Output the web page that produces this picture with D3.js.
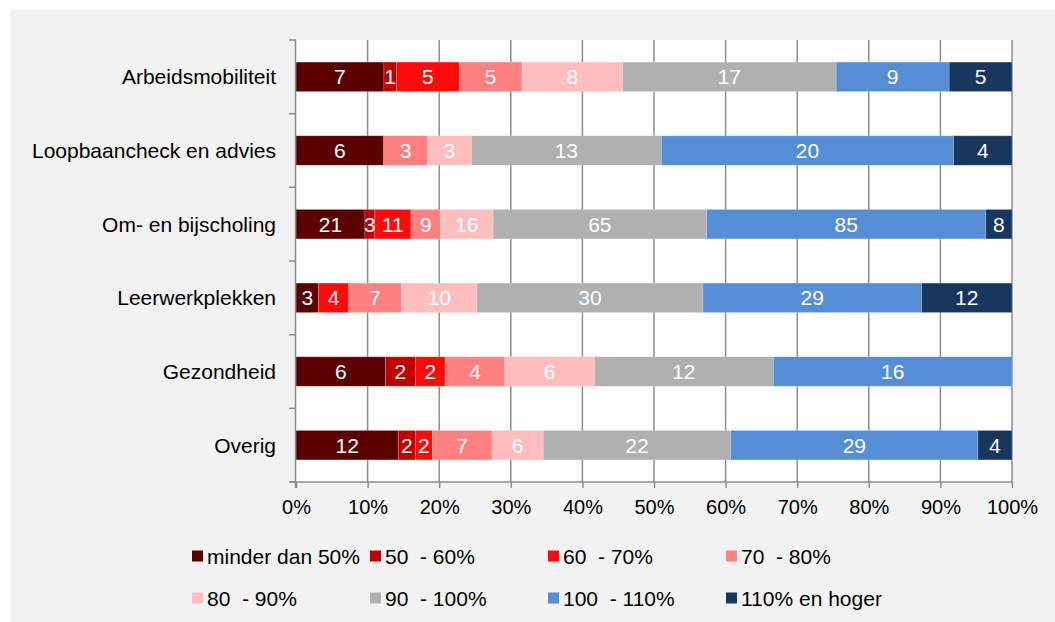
<!DOCTYPE html>
<html>
<head>
<meta charset="utf-8">
<script src="https://cdn.jsdelivr.net/npm/d3@7"></script>
<style>
  html, body { margin: 0; padding: 0; background: #ffffff; }
  svg { display: block; font-family: "Liberation Sans", Arial, sans-serif; }
</style>
</head>
<body>
<svg id="chart" width="1055" height="622"></svg>
<script>
// Categories (top to bottom)
const categories = [
  "Arbeidsmobiliteit",
  "Loopbaancheck en advies",
  "Om- en bijscholing",
  "Leerwerkplekken",
  "Gezondheid",
  "Overig"
];

// Series names (legend order / stacking order)
const seriesNames = [
  "minder dan 50%",
  "50  - 60%",
  "60  - 70%",
  "70  - 80%",
  "80  - 90%",
  "90  - 100%",
  "100  - 110%",
  "110% en hoger"
];

// Counts per series, one entry per category
const minderDan50 = [7, 6, 21, 3, 6, 12];
const s50to60     = [1, 0, 3, 0, 2, 2];
const s60to70     = [5, 0, 11, 4, 2, 2];
const s70to80     = [5, 3, 9, 7, 4, 7];
const s80to90     = [8, 3, 16, 10, 6, 6];
const s90to100    = [17, 13, 65, 30, 12, 22];
const s100to110   = [9, 20, 85, 29, 16, 29];
const s110plus    = [5, 4, 8, 12, 0, 4];

const seriesValues = [minderDan50, s50to60, s60to70, s70to80, s80to90, s90to100, s100to110, s110plus];

const colors = ["#5b0000", "#c00000", "#ff0a0a", "#ff8080", "#ffbdbd", "#b0b0b0", "#558ed5", "#17375e"];

const xTickValues = [0, 0.1, 0.2, 0.3, 0.4, 0.5, 0.6, 0.7, 0.8, 0.9, 1.0];

const svg = d3.select("#chart");
const W = 1055, H = 622;
const plot = { left: 296, right: 1012, top: 40, bottom: 482 };

// background panel
svg.append("rect").attr("x", 10).attr("y", 10).attr("width", W - 10).attr("height", H - 10).attr("fill", "#f2f2f2");
svg.append("rect")
  .attr("x", plot.left).attr("y", plot.top)
  .attr("width", plot.right - plot.left).attr("height", plot.bottom - plot.top)
  .attr("fill", "#ffffff");

const x = d3.scaleLinear().domain([0, 1]).range([plot.left, plot.right]);
const y = d3.scaleBand().domain(categories).range([plot.top, plot.bottom]).paddingInner(0.6).paddingOuter(0.3);

const gridColor = "#8c8c8c";

// vertical gridlines
svg.append("g").selectAll("line").data(xTickValues.slice(1)).join("line")
  .attr("x1", d => x(d)).attr("x2", d => x(d))
  .attr("y1", plot.top).attr("y2", plot.bottom)
  .attr("stroke", gridColor).attr("stroke-width", 1.5);

// build stacked rows (shares of each row total)
const rows = categories.map((c, i) => {
  const vals = seriesValues.map(s => s[i]);
  const total = d3.sum(vals);
  let acc = 0;
  return vals.map((v, k) => {
    const seg = { cat: c, k, v, x0: acc / total, x1: (acc + v) / total };
    acc += v;
    return seg;
  });
});
const segments = rows.flat().filter(d => d.v > 0);

svg.append("g").selectAll("rect").data(segments).join("rect")
  .attr("x", d => x(d.x0))
  .attr("y", d => y(d.cat))
  .attr("width", d => x(d.x1) - x(d.x0))
  .attr("height", y.bandwidth())
  .attr("fill", d => colors[d.k])
  .attr("stroke", "rgba(255,255,255,0.25)")
  .attr("stroke-width", 0.8);

svg.append("g").selectAll("text").data(segments).join("text")
  .attr("x", d => (x(d.x0) + x(d.x1)) / 2)
  .attr("y", d => y(d.cat) + y.bandwidth() / 2)
  .attr("dy", "0.36em")
  .attr("text-anchor", "middle")
  .attr("fill", "#ffffff")
  .attr("font-size", 21)
  .text(d => d.v);

// x axis
const xAxis = d3.axisBottom(x).tickValues(xTickValues).tickFormat(d3.format(".0%")).tickSize(6).tickPadding(12);
const gx = svg.append("g").attr("transform", `translate(0,${plot.bottom})`).call(xAxis);
gx.select(".domain").attr("stroke", gridColor).attr("stroke-width", 1.5).attr("d", `M${plot.left - 6},0H${plot.right}`);
gx.selectAll(".tick line").attr("stroke", gridColor).attr("stroke-width", 1.5);
gx.selectAll(".tick text").attr("font-size", 20).attr("fill", "#000").attr("font-family", "Liberation Sans, Arial, sans-serif");

// y axis: ticks at band boundaries
const boundaries = d3.range(categories.length + 1).map(i => plot.top + i * y.step());
svg.append("line").attr("x1", plot.left - 0.5).attr("x2", plot.left - 0.5)
  .attr("y1", plot.top).attr("y2", plot.bottom + 6)
  .attr("stroke", gridColor).attr("stroke-width", 1.5);
svg.append("g").selectAll("line").data(boundaries).join("line")
  .attr("x1", plot.left - 7).attr("x2", plot.left)
  .attr("y1", d => d).attr("y2", d => d)
  .attr("stroke", gridColor).attr("stroke-width", 1.5);

svg.append("g").selectAll("text").data(categories).join("text")
  .attr("x", plot.left - 20)
  .attr("y", d => y(d) + y.bandwidth() / 2)
  .attr("dy", "0.36em")
  .attr("text-anchor", "end")
  .attr("font-size", 21)
  .attr("fill", "#000")
  .text(d => d);

// legend
const legendCols = [192, 370, 548, 726];
const legendRows = [556, 598];
const lg = svg.append("g").selectAll("g").data(seriesNames).join("g")
  .attr("transform", (d, i) => `translate(${legendCols[i % 4]},${legendRows[Math.floor(i / 4)]})`);
lg.append("rect").attr("x", 0).attr("y", -5.5).attr("width", 11).attr("height", 11)
  .attr("fill", (d, i) => colors[i]);
lg.append("text").attr("x", 15).attr("dy", "0.36em")
  .attr("font-size", 21).attr("fill", "#000")
  .style("white-space", "pre")
  .text(d => d);
</script>
</body>
</html>
